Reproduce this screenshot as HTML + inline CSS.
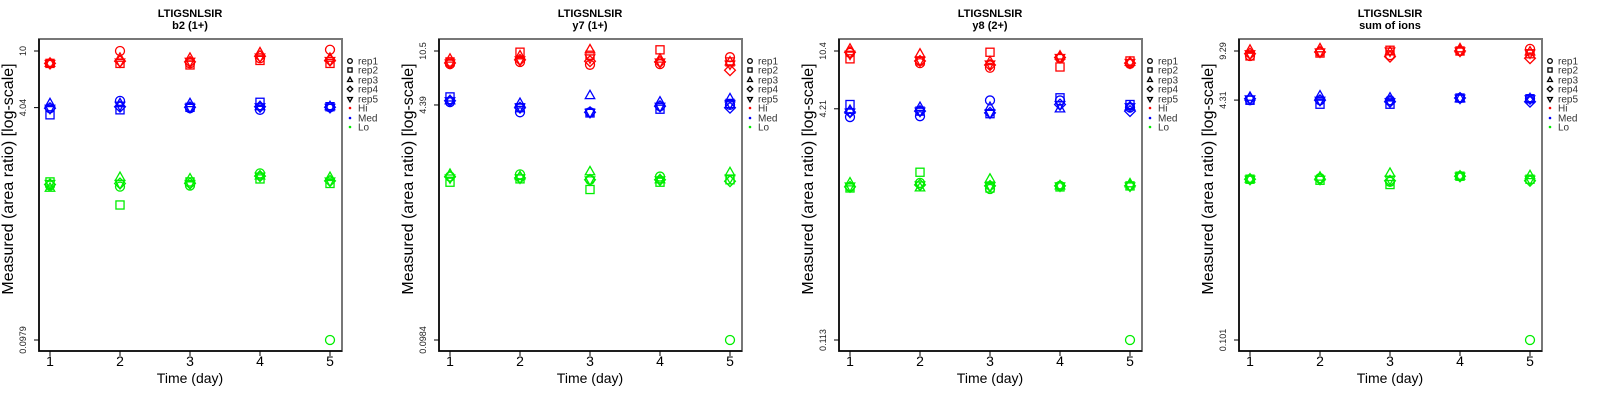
<!DOCTYPE html>
<html><head><meta charset="utf-8"><style>
body{margin:0;background:#fff;}
svg{display:block;font-family:"Liberation Sans",Arial,sans-serif;}
</style></head><body>
<svg id="c" width="1600" height="400" xmlns="http://www.w3.org/2000/svg"></svg>
<script>
const panelTitles = ["b2 (1+)", "y7 (1+)", "y8 (2+)", "sum of ions"];
const peptide = "LTIGSNLSIR";
const days = [1, 2, 3, 4, 5];
const reps = ["rep1", "rep2", "rep3", "rep4", "rep5"];
const groups = ["Hi", "Med", "Lo"];
const tickVals = [[10, 4.04, 0.0979], [10.5, 4.39, 0.0984], [10.4, 4.21, 0.113], [9.29, 4.31, 0.101]];
const tickLabels = [["10", "4.04", "0.0979"], ["10.5", "4.39", "0.0984"], ["10.4", "4.21", "0.113"], ["9.29", "4.31", "0.101"]];
// values[panel][group][rep] = per-day values
const p1Hi = [[8.2,10,8.2,8.9,10.2],[8.2,8.2,8.0,8.6,8.2],[8.2,8.9,8.9,9.7,8.9],[8.2,8.5,8.4,9.2,8.6],[8.2,8.4,8.5,9.1,8.6]];
const p1Med = [[4.0,4.5,4.0,3.9,4.06],[3.6,3.9,4.06,4.4,4.1],[4.3,4.3,4.3,4.1,4.1],[4.0,4.1,4.06,4.1,4.06],[4.0,4.2,4.06,4.1,4.06]];
const p1Lo = [[1.16,1.14,1.16,1.41,0.0979],[1.23,0.85,1.23,1.29,1.2],[1.11,1.32,1.29,1.35,1.32],[1.18,1.2,1.2,1.35,1.25],[1.2,1.2,1.2,1.35,1.25]];
const p2Hi = [[8.5,8.8,8.4,8.5,9.5],[8.8,10.3,9.8,10.7,8.8],[9.2,9.7,10.7,9.2,8.8],[8.65,9.1,8.9,8.8,7.7],[8.65,9.1,9.4,8.8,8.5]];
const p2Med = [[4.6,3.9,3.9,4.3,4.4],[5.0,4.2,3.86,4.1,4.5],[4.7,4.5,5.1,4.6,4.85],[4.7,4.2,3.9,4.3,4.2],[4.7,4.25,3.9,4.3,4.5]];
const p2Lo = [[1.38,1.43,1.31,1.38,0.0984],[1.26,1.33,1.12,1.26,1.31],[1.43,1.38,1.49,1.31,1.47],[1.38,1.35,1.31,1.31,1.28],[1.35,1.35,1.31,1.31,1.35]];
const p3Hi = [[10.1,8.6,8.0,9.3,8.5],[9.2,8.9,10.2,8.1,8.9],[10.7,9.9,8.8,9.6,8.7],[10.2,8.9,8.35,9.4,8.6],[9.9,9.0,8.5,9.4,8.7]];
const p3Med = [[3.7,3.75,4.8,4.8,4.3],[4.5,4.06,3.9,5.0,4.5],[4.1,4.3,4.3,4.2,4.35],[4.0,4.06,3.95,4.5,4.06],[4.0,4.06,3.95,4.5,4.35]];
const p3Lo = [[1.24,1.32,1.2,1.26,0.113],[1.22,1.56,1.22,1.24,1.26],[1.32,1.22,1.4,1.26,1.3],[1.24,1.28,1.26,1.26,1.26],[1.26,1.28,1.26,1.26,1.26]];
const p4Hi = [[8.6,9.15,8.7,9.29,9.6],[8.6,9.0,9.4,9.29,8.9],[9.4,9.6,9.15,9.6,9.15],[8.9,9.15,8.5,9.29,8.3],[8.9,9.15,9.29,9.29,9.0]];
const p4Med = [[4.3,4.3,4.3,4.45,4.4],[4.3,4.04,4.04,4.45,4.4],[4.5,4.6,4.45,4.4,4.4],[4.4,4.3,4.2,4.45,4.2],[4.4,4.3,4.2,4.45,4.4]];
const p4Lo = [[1.25,1.27,1.2,1.31,0.101],[1.25,1.23,1.15,1.31,1.25],[1.25,1.29,1.37,1.31,1.32],[1.25,1.25,1.22,1.31,1.22],[1.25,1.25,1.25,1.31,1.25]];
const values = [[p1Hi,p1Med,p1Lo],[p2Hi,p2Med,p2Lo],[p3Hi,p3Med,p3Lo],[p4Hi,p4Med,p4Lo]];
const colors = ["#ff0000", "#0000ff", "#00ee00"];

const NS = "http://www.w3.org/2000/svg";
const svg = document.getElementById("c");
function mk(tag, attrs, parent, txt) {
  const e = document.createElementNS(NS, tag);
  for (const k in attrs) e.setAttribute(k, attrs[k]);
  if (txt !== undefined) e.textContent = txt;
  (parent || svg).appendChild(e);
  return e;
}
function marker(g, shape, cx, cy, col, r) {
  let e;
  if (shape === 0) e = mk("circle", {cx: cx, cy: cy, r: r, fill: "none", stroke: col, "stroke-width": 1.3}, g);
  else if (shape === 1) e = mk("rect", {x: cx - r*0.9, y: cy - r*0.9, width: r*1.8, height: r*1.8, fill: "none", stroke: col, "stroke-width": 1.3}, g);
  else if (shape === 2) e = mk("polygon", {points: `${cx},${cy - r*1.2} ${cx - r*1.05},${cy + r*0.65} ${cx + r*1.05},${cy + r*0.65}`, fill: "none", stroke: col, "stroke-width": 1.3}, g);
  else if (shape === 3) e = mk("polygon", {points: `${cx},${cy - r*1.2} ${cx + r*1.2},${cy} ${cx},${cy + r*1.2} ${cx - r*1.2},${cy}`, fill: "none", stroke: col, "stroke-width": 1.3}, g);
  else e = mk("polygon", {points: `${cx},${cy + r*1.2} ${cx - r*1.05},${cy - r*0.65} ${cx + r*1.05},${cy - r*0.65}`, fill: "none", stroke: col, "stroke-width": 1.3}, g);
  return e;
}

for (let p = 0; p < 4; p++) {
  const ox = 400 * p;
  const L = 39 + ox, R = 342 + ox, T = 39, B = 351;
  const yTop = 51, yBot = 340;
  const lt = Math.log10(tickVals[p][0]), lb = Math.log10(tickVals[p][2]);
  const ys = v => yTop + (lt - Math.log10(v)) / (lt - lb) * (yBot - yTop);
  const xs = d => 50 + ox + (d - 1) * 70;
  const g = mk("g", {});
  
  

  const t1 = mk("text", {x: 190 + ox, y: 17, "text-anchor": "middle", "font-size": 11, "font-weight": "bold"}, g, peptide);
  
  
  const t2 = mk("text", {x: 190 + ox, y: 29, "text-anchor": "middle", "font-size": 11, "font-weight": "bold"}, g, panelTitles[p]);
  
  

  const box = mk("rect", {x: L, y: T, width: R - L, height: B - T, fill: "none", stroke: "#777", "stroke-width": 2}, g);
  
  
  const ax = mk("path", {d: `M${L},${T} L${L},${B} L${R},${B}`, fill: "none", stroke: "#000", "stroke-width": 1.5}, g);
  
  

  for (let i = 0; i < days.length; i++) {
    const x = xs(days[i]);
    mk("line", {x1: x, y1: B, x2: x, y2: B + 5, stroke: "#000"}, g);
    const tl = mk("text", {x: x, y: 366, "text-anchor": "middle", "font-size": 14}, g, String(days[i]));
    
    
  }
  for (let i = 0; i < 3; i++) {
    const y = ys(tickVals[p][i]);
    mk("line", {x1: L - 5, y1: y, x2: L, y2: y, stroke: "#000"}, g);
    const yl = mk("text", {x: 26 + ox, y: y, "text-anchor": "middle", "font-size": 9, fill: "#222", transform: `rotate(-90 ${26 + ox} ${y})`}, g, tickLabels[p][i]);
    
    
  }
  const xt = mk("text", {x: 190 + ox, y: 383, "text-anchor": "middle", "font-size": 14}, g, "Time (day)");
  
  
  const yt = mk("text", {x: 13 + ox, y: 179, "text-anchor": "middle", "font-size": 16, transform: `rotate(-90 ${13 + ox} 179)`}, g, "Measured (area ratio) [log-scale]");
  
  

  for (let gi = 0; gi < 3; gi++) {
    for (let r = 0; r < 5; r++) {
      for (let d = 0; d < days.length; d++) {
        const m = marker(g, r, xs(days[d]), ys(values[p][gi][r][d]), colors[gi], 4.5);
        
        
      }
    }
  }

  const lg = mk("g", {}, g);
  
  
  const rowsY = [61, 70, 80, 89, 99, 108, 118, 127];
  for (let i = 0; i < 8; i++) {
    const y = rowsY[i];
    let label;
    if (i < 5) { marker(lg, i, 350 + ox, y, "#000", 2.3); label = reps[i]; }
    else { mk("circle", {cx: 350 + ox, cy: y, r: 1.3, fill: colors[i - 5]}, lg); label = groups[i - 5]; }
    const lt2 = mk("text", {x: 358 + ox, y: y + 3.5, "font-size": 10, fill: "#333"}, lg, label);
    
    
  }
}
</script>
</body></html>
